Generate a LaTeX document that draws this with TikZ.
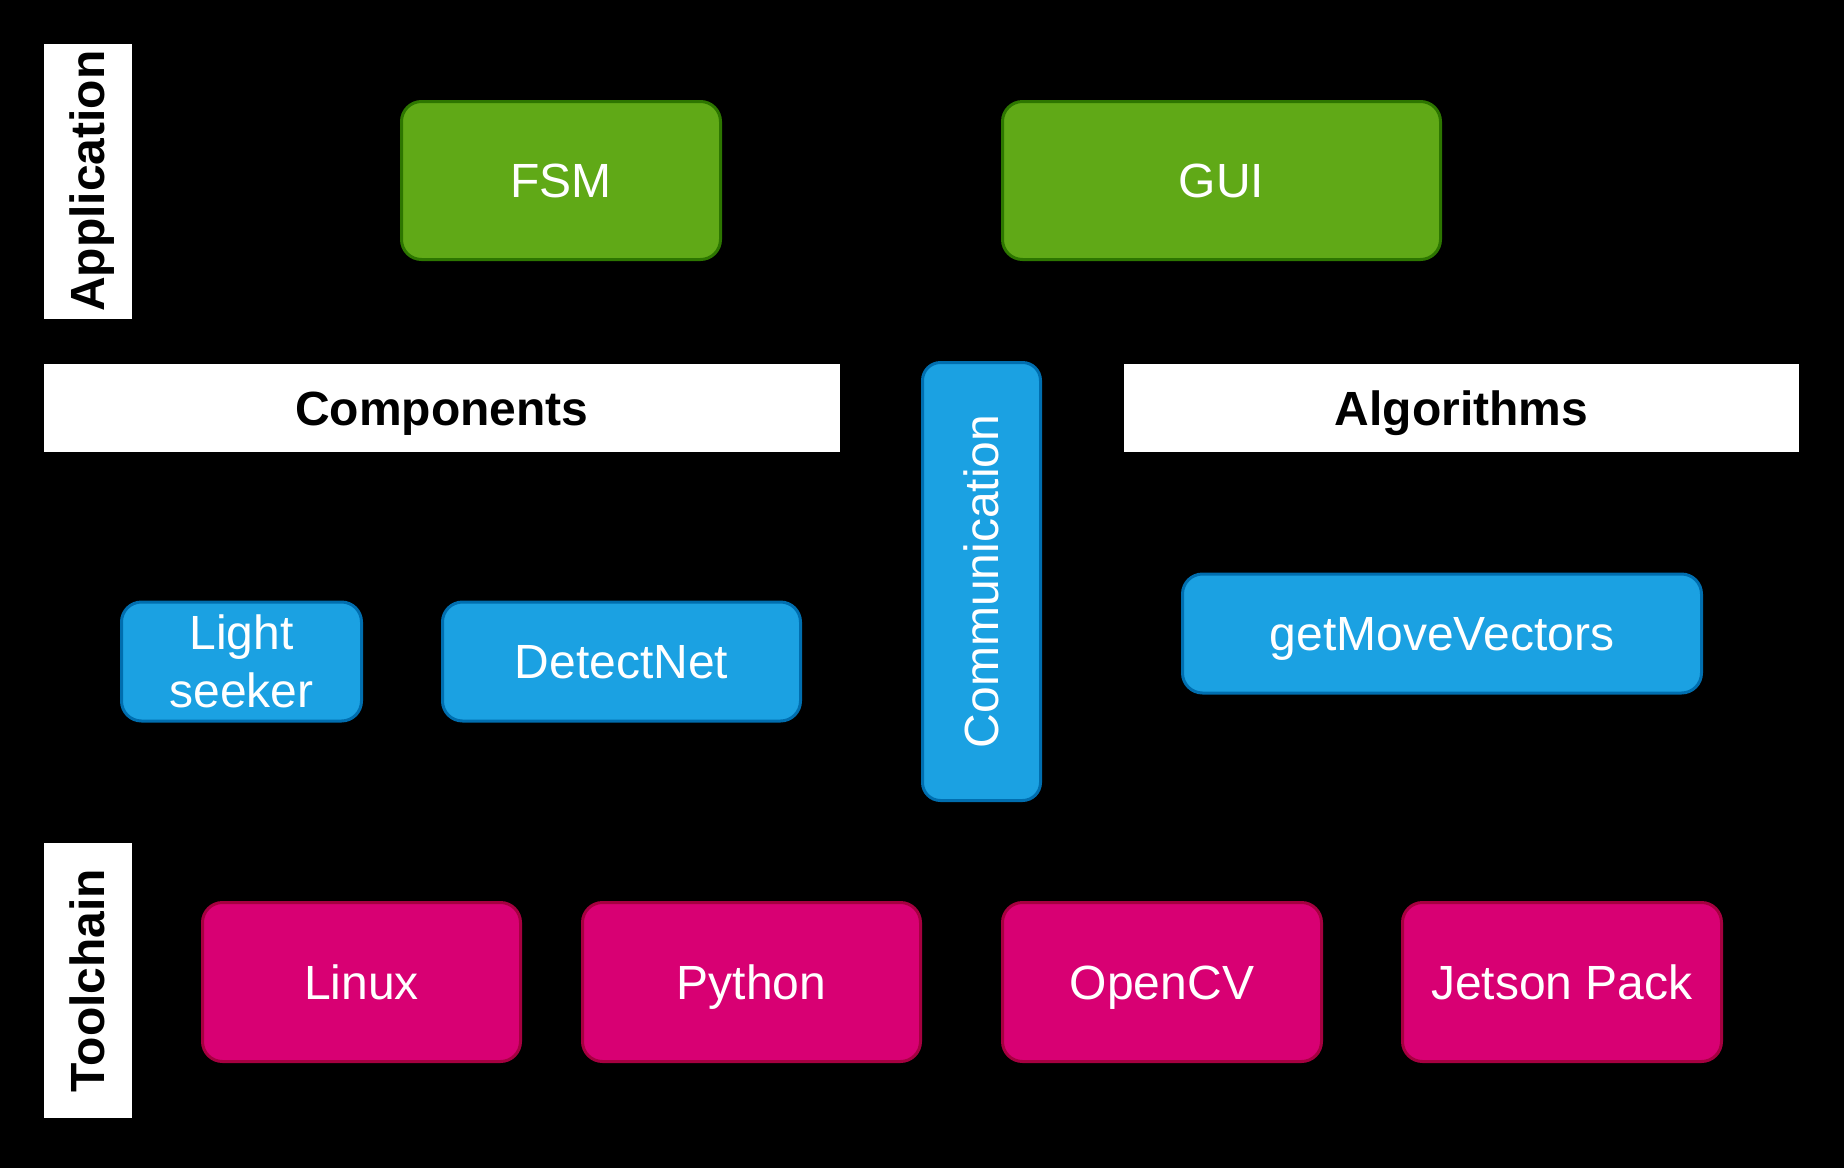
\documentclass[tikz,border=0pt]{standalone}
\usepackage{fontspec}
\setmainfont{Liberation Sans}
\usetikzlibrary{shapes}
\definecolor{appgreen}{HTML}{60A917}
\definecolor{appgreenline}{HTML}{2D7600}
\definecolor{compblue}{HTML}{1BA1E2}
\definecolor{compblueline}{HTML}{006EAF}
\definecolor{toolpink}{HTML}{D80073}
\definecolor{toolpinkline}{HTML}{A50040}
\tikzset{
  layernode/.style = {align=center, inner sep=0pt, text centered, font=\fontsize{24}{28.8}\selectfont},
  oneline/.style = {text height=17.2pt, text depth=0pt},
  layer_l/.style = {layernode, oneline, rectangle, fill=white, text=black, font=\fontsize{24}{28.8}\selectfont\bfseries},
  layer_v/.style = {layer_l, rotate=90, minimum width=137.6pt, minimum height=44.1pt},
  boxnode/.style = {layernode, rectangle, rounded corners=10pt, line width=1.5pt, text=white},
  app_n/.style = {boxnode, oneline, fill=appgreen, draw=appgreenline, minimum height=79pt},
  comp_n/.style = {boxnode, fill=compblue, draw=compblueline, minimum height=59.5pt},
  tool_n/.style = {boxnode, oneline, fill=toolpink, draw=toolpinkline, minimum height=79.5pt}
}

\begin{document}
\begin{tikzpicture}[x=1pt,y=1pt]
	\fill[black] (0,0) rectangle (922,-584);
	\node [layer_v] (app) at (43.8,-90.6) {Application};
	\node [layer_v] (tool) at (43.8,-490.25) {Toolchain};
	\node [layer_l, minimum width=398pt, minimum height=44pt] (comp) at (221,-204) {Components};
	\node [layer_l, minimum width=337.5pt, minimum height=44pt] (algo) at (730.75,-204) {Algorithms};

	\node [app_n, minimum width=159.5pt] (fsm) at (280.5,-90.25) {FSM};
	\node [app_n, minimum width=219pt] (gui) at (610.75,-90.25) {GUI};

	\node [comp_n, oneline, rotate=90, minimum width=219pt, minimum height=59pt, rounded corners=9pt] (comm) at (490.75,-290.75) {Communication};
	\node [comp_n, minimum width=120pt] (light) at (120.75,-330.75) {Light\\seeker};
	\node [comp_n, oneline, minimum width=179pt] (detect) at (310.75,-330.75) {DetectNet};
	\node [comp_n, oneline, minimum width=259.5pt] (moves) at (721,-316.75) {getMoveVectors};

	\node [tool_n, minimum width=159pt] (linux) at (180.75,-491) {Linux};
	\node [tool_n, minimum width=169pt] (python) at (375.75,-491) {Python};
	\node [tool_n, minimum width=159.5pt] (opencv) at (581,-491) {OpenCV};
	\node [tool_n, minimum width=159.5pt] (jetson) at (781,-491) {Jetson Pack};
\end{tikzpicture}
\end{document}
